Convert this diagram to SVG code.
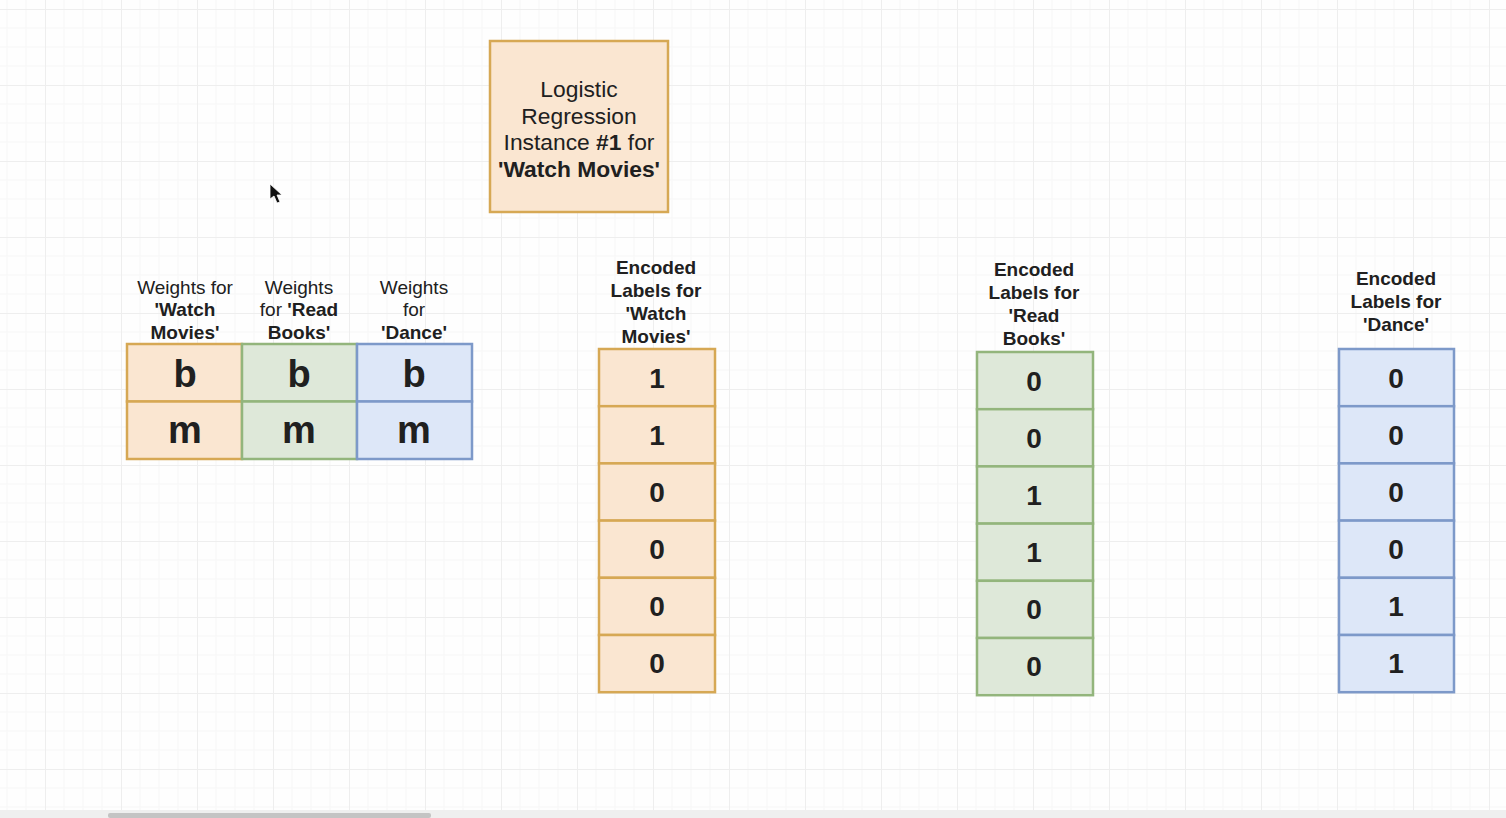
<svg xmlns="http://www.w3.org/2000/svg" width="1506" height="818" viewBox="0 0 1506 818">
<style>
.t{font-family:"Liberation Sans",Arial,Helvetica,sans-serif;fill:#202020;text-anchor:middle}
.lbl{font-size:19px}
.hdr{font-size:19px;font-weight:bold}
.big{font-size:38px;font-weight:bold}
.num{font-size:28px;font-weight:bold}
.title{font-size:22.8px}
.b{font-weight:bold}
.or{fill:#fae6d1;stroke:#d6a854;stroke-width:2.5}
.gr{fill:#dee8d9;stroke:#93b57c;stroke-width:2.5}
.bl{fill:#dde7f8;stroke:#7d99c9;stroke-width:2.5}
</style>
<defs>
<pattern id="grid" x="45" y="9" width="76" height="76" patternUnits="userSpaceOnUse">
<path d="M19 0V76M38 0V76M57 0V76M0 19H76M0 38H76M0 57H76" stroke="#f6f6f6" stroke-width="1" fill="none"/>
<path d="M0.5 0V76M0 0.5H76" stroke="#eeeeee" stroke-width="1" fill="none"/>
</pattern>
</defs>
<rect width="1506" height="818" fill="#fefefe"/>
<rect width="1506" height="810" fill="url(#grid)"/>
<rect x="0" y="810" width="1506" height="8" fill="#efefef"/>
<rect x="108" y="813" width="323" height="5" rx="2" fill="#c4c4c4"/>
<polygon points="270,184 270,199 274,196 277,203 280,202 277,195 282,195" fill="#111" stroke="#fff" stroke-width="0.8"/>

<g id="connectors"></g>

<g id="lr-instance">
<rect class="or" x="490" y="41" width="178" height="171"/>
<text class="t title" x="579" y="97">Logistic</text>
<text class="t title" x="579" y="124">Regression</text>
<text class="t title" x="579" y="150">Instance <tspan class="b">#1</tspan> for</text>
<text class="t title b" x="579" y="177">'Watch Movies'</text>
</g>

<g id="weights-watch">
<text class="t lbl" x="185" y="294">Weights for</text>
<text class="t lbl b" x="185" y="316">'Watch</text>
<text class="t lbl b" x="185" y="339">Movies'</text>
<rect class="or" x="127" y="344" width="115" height="57.5"/>
<rect class="or" x="127" y="401.5" width="115" height="57.5"/>
<text class="t big" x="185" y="387">b</text>
<text class="t big" x="185" y="443">m</text>
</g>

<g id="weights-read">
<text class="t lbl" x="299" y="294">Weights</text>
<text class="t lbl" x="299" y="316">for <tspan class="b">'Read</tspan></text>
<text class="t lbl b" x="299" y="339">Books'</text>
<rect class="gr" x="242" y="344" width="115" height="57.5"/>
<rect class="gr" x="242" y="401.5" width="115" height="57.5"/>
<text class="t big" x="299" y="387">b</text>
<text class="t big" x="299" y="443">m</text>
</g>

<g id="weights-dance">
<text class="t lbl" x="414" y="294">Weights</text>
<text class="t lbl" x="414" y="316">for</text>
<text class="t lbl b" x="414" y="339">'Dance'</text>
<rect class="bl" x="357" y="344" width="115" height="57.5"/>
<rect class="bl" x="357" y="401.5" width="115" height="57.5"/>
<text class="t big" x="414" y="387">b</text>
<text class="t big" x="414" y="443">m</text>
</g>

<g id="labels-watch">
<text class="t hdr" x="656" y="274">Encoded</text>
<text class="t hdr" x="656" y="297">Labels for</text>
<text class="t hdr" x="656" y="320">'Watch</text>
<text class="t hdr" x="656" y="343">Movies'</text>
<rect class="or" x="599" y="349" width="116" height="57.2"/>
<rect class="or" x="599" y="406.2" width="116" height="57.2"/>
<rect class="or" x="599" y="463.4" width="116" height="57.2"/>
<rect class="or" x="599" y="520.6" width="116" height="57.2"/>
<rect class="or" x="599" y="577.8" width="116" height="57.2"/>
<rect class="or" x="599" y="635" width="116" height="57.2"/>
<text class="t num" x="657" y="388">1</text>
<text class="t num" x="657" y="445">1</text>
<text class="t num" x="657" y="502">0</text>
<text class="t num" x="657" y="559">0</text>
<text class="t num" x="657" y="616">0</text>
<text class="t num" x="657" y="673">0</text>
</g>

<g id="labels-read">
<text class="t hdr" x="1034" y="276">Encoded</text>
<text class="t hdr" x="1034" y="299">Labels for</text>
<text class="t hdr" x="1034" y="322">'Read</text>
<text class="t hdr" x="1034" y="345">Books'</text>
<rect class="gr" x="977" y="352" width="116" height="57.2"/>
<rect class="gr" x="977" y="409.2" width="116" height="57.2"/>
<rect class="gr" x="977" y="466.4" width="116" height="57.2"/>
<rect class="gr" x="977" y="523.6" width="116" height="57.2"/>
<rect class="gr" x="977" y="580.8" width="116" height="57.2"/>
<rect class="gr" x="977" y="638" width="116" height="57.2"/>
<text class="t num" x="1034" y="391">0</text>
<text class="t num" x="1034" y="448">0</text>
<text class="t num" x="1034" y="505">1</text>
<text class="t num" x="1034" y="562">1</text>
<text class="t num" x="1034" y="619">0</text>
<text class="t num" x="1034" y="676">0</text>
</g>

<g id="labels-dance">
<text class="t hdr" x="1396" y="285">Encoded</text>
<text class="t hdr" x="1396" y="308">Labels for</text>
<text class="t hdr" x="1396" y="331">'Dance'</text>
<rect class="bl" x="1339" y="349" width="115" height="57.2"/>
<rect class="bl" x="1339" y="406.2" width="115" height="57.2"/>
<rect class="bl" x="1339" y="463.4" width="115" height="57.2"/>
<rect class="bl" x="1339" y="520.6" width="115" height="57.2"/>
<rect class="bl" x="1339" y="577.8" width="115" height="57.2"/>
<rect class="bl" x="1339" y="635" width="115" height="57.2"/>
<text class="t num" x="1396" y="388">0</text>
<text class="t num" x="1396" y="445">0</text>
<text class="t num" x="1396" y="502">0</text>
<text class="t num" x="1396" y="559">0</text>
<text class="t num" x="1396" y="616">1</text>
<text class="t num" x="1396" y="673">1</text>
</g>
</svg>
